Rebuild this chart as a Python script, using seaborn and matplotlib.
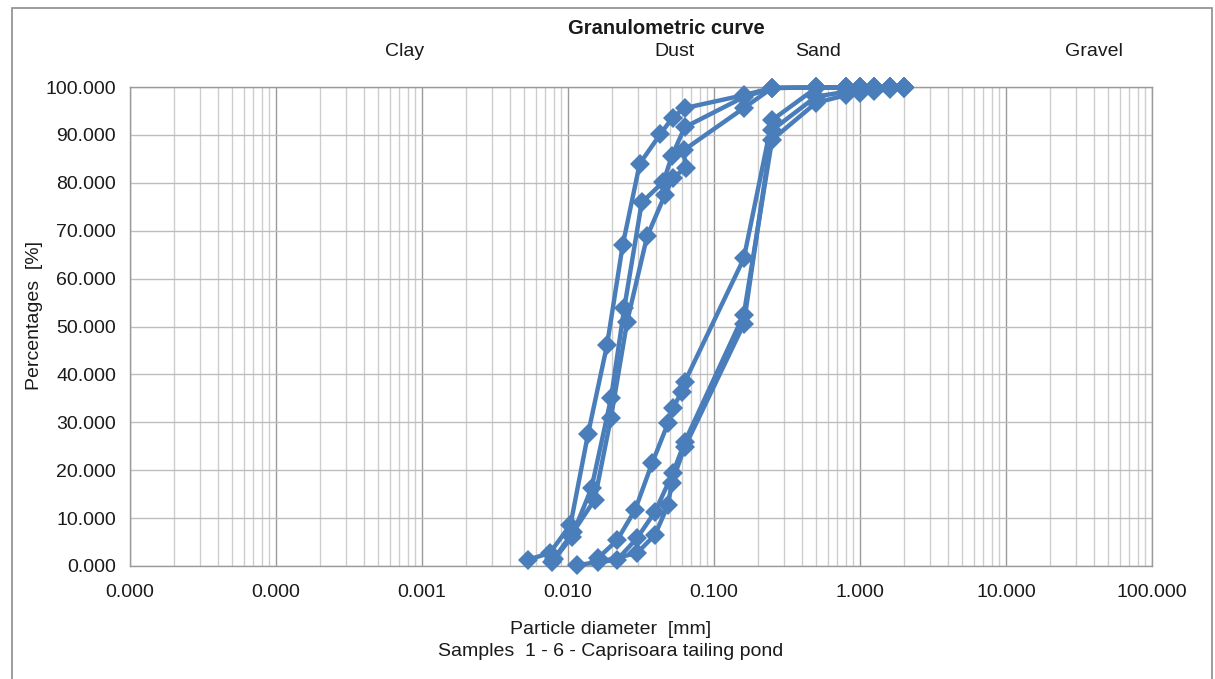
import numpy as np
import pandas as pd
import matplotlib
matplotlib.use("Agg")
import matplotlib.pyplot as plt
from matplotlib.ticker import FixedLocator, FuncFormatter, LogLocator, NullFormatter
import seaborn as sns

# ---------------- data ----------------
sieves = [2.0, 1.6, 1.25, 1.0, 0.8, 0.5]

s1_d = sieves + [0.25, 0.16, 0.063, 0.052, 0.043, 0.031, 0.0237, 0.0185, 0.0137, 0.0104, 0.0075, 0.0053]
s1_p = [99.9, 99.9, 99.9, 99.9, 99.9, 99.9, 99.8, 98.3, 95.6, 93.6, 90.2, 84.0, 67.0, 46.1, 27.5, 8.6, 2.7, 1.3]

s2_d = sieves + [0.25, 0.16, 0.063, 0.0515, 0.045, 0.032, 0.0243, 0.0197, 0.0145, 0.0106, 0.0078]
s2_p = [99.9, 99.9, 99.9, 99.9, 99.9, 99.9, 99.8, 97.9, 91.6, 85.6, 80.2, 75.9, 53.9, 35.0, 16.3, 6.1, 0.8]

s3_d = sieves + [0.25, 0.16, 0.062, 0.064, 0.0525, 0.046, 0.0348, 0.0254, 0.0197, 0.0152, 0.0108, 0.0080]
s3_p = [99.9, 99.9, 99.9, 99.9, 99.9, 99.9, 99.8, 95.6, 86.8, 83.1, 81.1, 77.4, 68.8, 51.0, 31.0, 13.8, 7.0, 1.5]

s4_d = sieves + [0.25, 0.16, 0.063, 0.060, 0.0523, 0.0484, 0.0377, 0.0288, 0.0217, 0.0160]
s4_p = [99.9, 99.9, 99.9, 99.9, 99.9, 99.8, 93.1, 64.2, 38.4, 36.3, 33.0, 29.8, 21.5, 11.7, 5.4, 1.6]

s5_d = sieves + [0.25, 0.16, 0.063, 0.0523, 0.0394, 0.0297, 0.0217, 0.0115]
s5_p = [99.8, 99.5, 99.2, 98.8, 98.3, 96.7, 89.0, 52.5, 25.9, 19.4, 11.3, 5.8, 1.3, 0.2]

s6_d = sieves + [0.25, 0.16, 0.063, 0.0513, 0.0484, 0.0394, 0.0297, 0.0160]
s6_p = [99.8, 99.7, 99.5, 99.3, 99.0, 98.0, 91.0, 50.5, 24.8, 17.3, 12.7, 6.5, 2.7, 0.8]

samples = ["1", "2", "3", "4", "5", "6"]
series_d = [s1_d, s2_d, s3_d, s4_d, s5_d, s6_d]
series_p = [s1_p, s2_p, s3_p, s4_p, s5_p, s6_p]

x_ticks = [1e-5, 1e-4, 1e-3, 1e-2, 1e-1, 1, 10, 100]
y_ticks = list(range(0, 101, 10))

title = "Granulometric curve"
zones = ["Clay", "Dust", "Sand", "Gravel"]
x_label = "Particle diameter  [mm]"
x_label2 = "Samples  1 - 6 - Caprisoara tailing pond"
y_label = "Percentages  [%]"

frames = []
for name, d, p in zip(samples, series_d, series_p):
    frames.append(pd.DataFrame({"sample": name, "d": d, "p": p, "order": range(len(d))}))
df = pd.concat(frames, ignore_index=True)

# ---------------- style ----------------
sns.set_theme(style="white")
plt.rcParams["font.family"] = ["Liberation Sans", "DejaVu Sans"]

W, H = 1215, 679
fig = plt.figure(figsize=(W / 100, H / 100), dpi=100)
L, R, T, B = 130, 1152, 87, 566
ax = fig.add_axes([L / W, 1 - B / H, (R - L) / W, (B - T) / H])

blue = "#4A7EBB"
sns.lineplot(data=df, x="d", y="p", units="sample", estimator=None, sort=False,
             color=blue, linewidth=3.2, marker="D", markersize=10,
             markeredgewidth=0, ax=ax, legend=False, zorder=3)
for ln in ax.lines:
    ln.set_clip_on(False)

ax.set_xscale("log")
ax.set_xlim(1e-5, 100)
ax.set_ylim(0, 100)

ax.xaxis.set_major_locator(FixedLocator(x_ticks))
ax.xaxis.set_major_formatter(FuncFormatter(lambda v, pos: f"{v:.3f}"))
ax.xaxis.set_minor_locator(LogLocator(base=10, subs=np.arange(2, 10), numticks=100))
ax.xaxis.set_minor_formatter(NullFormatter())
ax.yaxis.set_major_locator(FixedLocator(y_ticks))
ax.yaxis.set_major_formatter(FuncFormatter(lambda v, pos: f"{v:.3f}"))

ax.grid(True, which="major", axis="x", color="#9a9a9a", linewidth=1.0, zorder=0)
ax.grid(True, which="minor", axis="x", color="#cdcdcd", linewidth=1.0, zorder=0)
ax.grid(True, which="major", axis="y", color="#bdbdbd", linewidth=1.0, zorder=0)
ax.set_axisbelow(True)

for s in ax.spines.values():
    s.set_color("#9a9a9a")
    s.set_linewidth(1.0)

fs = 14
ax.tick_params(axis="both", which="major", direction="out", length=5, width=1,
               color="#9a9a9a", labelsize=fs, labelcolor="#1a1a1a", pad=5)
ax.tick_params(axis="x", which="major", pad=8)
ax.tick_params(axis="x", which="minor", length=0)
ax.set_xlabel("")
ax.set_ylabel("")

# texts
fig.text(666 / W, 1 - 28 / H, title, ha="center", va="center", fontsize=14.5,
         fontweight="bold", color="#1a1a1a")
for z, zx in zip(zones, [405, 675, 818, 1094]):
    fig.text(zx / W, 1 - 52 / H, z, ha="center", va="center", fontsize=fs, color="#1a1a1a")
fig.text(611 / W, 1 - 629 / H, x_label, ha="center", va="center", fontsize=fs, color="#1a1a1a")
fig.text(611 / W, 1 - 652 / H, x_label2, ha="center", va="center", fontsize=fs, color="#1a1a1a")
fig.text(35 / W, 1 - 316 / H, y_label, ha="center", va="center", rotation=90,
         fontsize=fs, color="#1a1a1a")

# chart frame
frame = plt.Rectangle((12 / W, -0.05), (1212 - 12) / W, 1 - 8 / H + 0.05,
                      transform=fig.transFigure, fill=False, edgecolor="#8c8c8c",
                      linewidth=1.2)
fig.patches.append(frame)

fig.savefig("out.png", dpi=100)
